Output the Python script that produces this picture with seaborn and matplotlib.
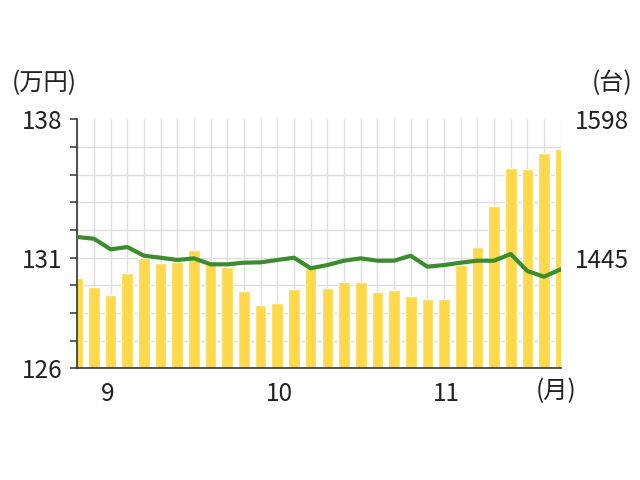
import numpy as np
import pandas as pd
import matplotlib
matplotlib.use("Agg")
import matplotlib.pyplot as plt
import seaborn as sns

# bars: price (万円), left axis
price = [130.34, 129.93, 129.53, 130.61, 131.30, 131.09, 131.14, 131.70, 131.01, 130.87,
         129.73, 129.05, 129.16, 129.81, 130.82, 129.88, 130.17, 130.17, 129.69, 129.77,
         129.50, 129.33, 129.33, 130.98, 131.86, 133.83, 135.67, 135.59, 136.39, 136.57]
# line: count (台), right axis
units = [1467.8, 1465.9, 1454.2, 1456.7, 1447.1, 1444.9, 1442.4, 1444.2, 1437.6, 1437.6,
         1439.4, 1439.8, 1442.4, 1444.9, 1433.2, 1436.8, 1441.6, 1444.2, 1441.6, 1441.6,
         1447.1, 1435.0, 1436.8, 1439.4, 1441.6, 1441.6, 1449.0, 1430.2, 1423.9, 1432.1]
months = ["9", "10", "11"]
month_pos = [1.8, 12.15, 22.15]
left_min, left_max = 126, 138
left_labels = {0: "126", 4: "131", 9: "138"}
right_min, right_max = 1322.6, 1598
right_ticks = [1445, 1598]
right_labels = ["1445", "1598"]

sns.set_theme(style="white")
plt.rcParams["font.family"] = ["Noto Sans CJK JP", "DejaVu Sans"]

BAR = "#FFD94B"
GREEN = "#3A8C2C"
GRID = "#DEDEDE"
DARK = "#333333"
TXT = "#222222"
FS = 17.5

fig = plt.figure(figsize=(6.4, 4.8), dpi=100)
ax = fig.add_axes([77.3 / 640, 1 - 368.3 / 480, (560.7 - 77.3) / 640, (368.3 - 119.3) / 480])

df = pd.DataFrame({"i": range(len(price)), "price": price, "units": units})
sns.barplot(data=df, x="i", y="price", color=BAR, saturation=1, width=0.7, ax=ax, zorder=2)

ax.set_xlim(0, len(price) - 1)
ax.set_ylim(left_min, left_max)
grid_vals = left_min + np.arange(10) * (left_max - left_min) / 9
for v in grid_vals[1:-1]:
    ax.axhline(v, color=GRID, lw=1, zorder=1)
ax.set_yticks(grid_vals)
ax.set_yticklabels([left_labels.get(k, "") for k in range(10)])
ax.tick_params(axis="y", which="major", length=5, width=1.1, color=DARK, direction="out",
               pad=6, labelsize=FS, labelcolor=TXT)

ax.set_xticks(range(len(price)))
ax.set_xticklabels([""] * len(price))
ax.xaxis.grid(True, color=GRID, lw=1, zorder=1)
ax.yaxis.grid(False)
ax.tick_params(axis="x", which="major", length=5, width=1, color="#777777", direction="out")
ax.set_xticks(month_pos, minor=True)
ax.set_xticklabels(months, minor=True)
ax.tick_params(axis="x", which="minor", length=0, pad=9, labelsize=FS, labelcolor=TXT)
ax.set_axisbelow(True)
ax.set_xlabel("")
ax.set_ylabel("")

for s in ["top", "right"]:
    ax.spines[s].set_visible(False)
for s in ["left", "bottom"]:
    ax.spines[s].set_color(DARK)
    ax.spines[s].set_linewidth(1.2)

ax2 = ax.twinx()
sns.lineplot(data=df, x="i", y="units", color=GREEN, lw=3, ax=ax2)
ax2.set_ylim(right_min, right_max)
ax2.set_xlim(0, len(price) - 1)
ax2.set_yticks(right_ticks)
ax2.set_yticklabels(right_labels)
ax2.tick_params(axis="y", length=0, pad=10, labelsize=FS, labelcolor=TXT)
ax2.grid(False)
ax2.set_ylabel("")
for s in ax2.spines.values():
    s.set_visible(False)

fig.text(12 / 640, 1 - 83 / 480, "(万円)", ha="left", va="center", fontsize=FS, color=TXT)
fig.text(633 / 640, 1 - 83 / 480, "(台)", ha="right", va="center", fontsize=FS, color=TXT)
fig.text(576 / 640, 1 - 391 / 480, "(月)", ha="right", va="center", fontsize=FS, color=TXT)

fig.savefig("out.png", dpi=100)
